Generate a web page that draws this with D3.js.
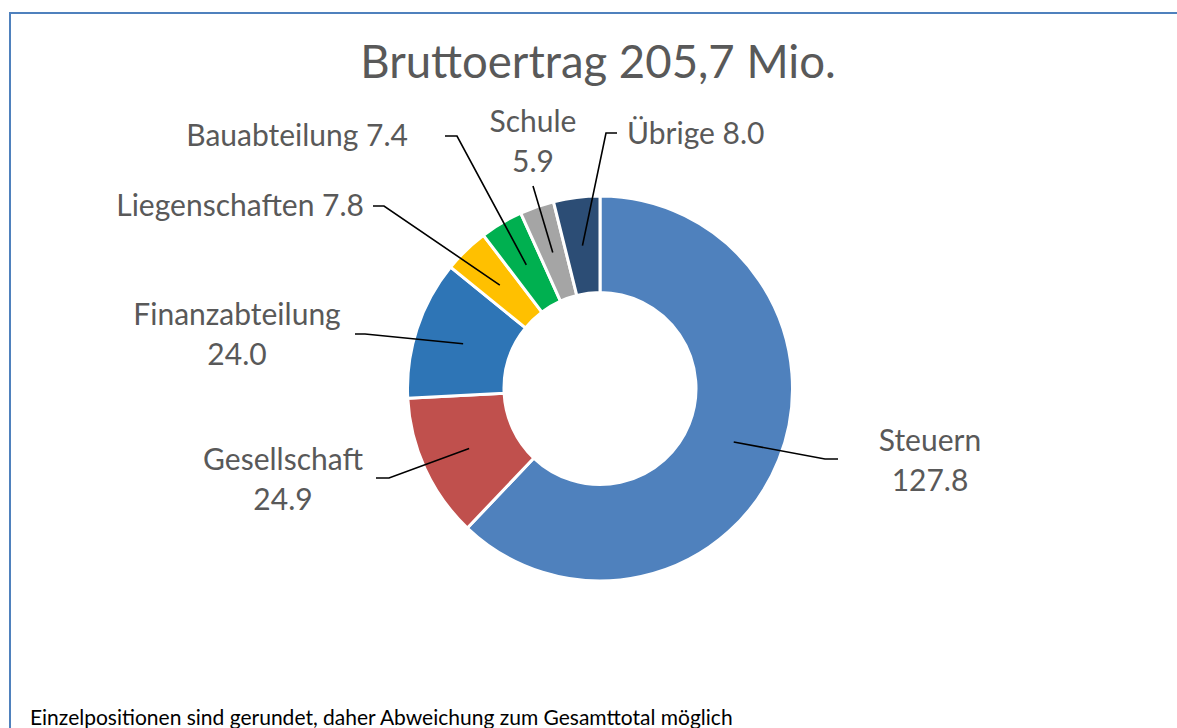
<!DOCTYPE html>
<html>
<head>
<meta charset="utf-8">
<script src="https://cdn.jsdelivr.net/npm/d3@7"></script>
<style>
  html, body { margin: 0; padding: 0; background: #fff; }
  svg { display: block; }
</style>
</head>
<body>
<svg id="chart" width="1177" height="728"></svg>
<script>
// ---- data ----
const categories = ["Steuern", "Gesellschaft", "Finanzabteilung", "Liegenschaften", "Bauabteilung", "Schule", "Übrige"];
const values = [127.8, 24.9, 24.0, 7.8, 7.4, 5.9, 8.0];
const colors = ["#4f81bd", "#c0504d", "#2e75b6", "#ffc000", "#00b050", "#a5a5a5", "#2c4d75"];
const labelLineBreak = [true, true, true, false, false, true, false];
const titleText = "Bruttoertrag 205,7 Mio.";
const footnoteText = "Einzelpositionen sind gerundet, daher Abweichung zum Gesamttotal möglich";

// ---- layout (label placement, not data) ----
const labelLayout = [
  { x: 930, y: 451, anchor: "middle", elbow: [[825, 459], [838, 459]] },
  { x: 283, y: 470, anchor: "middle", elbow: [[389, 478], [376, 478]] },
  { x: 237, y: 325, anchor: "middle", elbow: [[365, 334], [355, 334]] },
  { x: 364, y: 216, anchor: "end",    elbow: [[384, 206], [373, 206]] },
  { x: 408, y: 146, anchor: "end",    elbow: [[457, 136], [445, 136]] },
  { x: 533, y: 132, anchor: "middle", elbow: [[533, 186]] },
  { x: 627, y: 144, anchor: "start",  elbow: [[606, 133], [617, 133]] }
];

const svg = d3.select("#chart");
const cx = 600, cy = 388.5, rOuter = 192.5, rInner = 96;
const fontFam = "Lato, 'Noto Sans', sans-serif";

// border
svg.append("rect").attr("x", 10).attr("y", 13).attr("width", 1200).attr("height", 800)
  .attr("fill", "none").attr("stroke", "#4f81bd").attr("stroke-width", 2);

// title
svg.append("text").attr("x", 598).attr("y", 78).attr("text-anchor", "middle")
  .attr("font-family", fontFam).attr("font-size", 45.5).attr("fill", "#595959").text(titleText);

const data = categories.map((c, i) => ({ name: c, value: values[i], color: colors[i], i }));
const pie = d3.pie().value(d => d.value).sort(null);
const arcs = pie(data);
const arc = d3.arc().innerRadius(rInner).outerRadius(rOuter);
const midArc = d3.arc().innerRadius(144).outerRadius(144);

const g = svg.append("g").attr("transform", `translate(${cx},${cy})`);
g.selectAll("path.slice").data(arcs).enter().append("path")
  .attr("class", "slice")
  .attr("d", arc)
  .attr("fill", d => d.data.color)
  .attr("stroke", "#fff").attr("stroke-width", 3).attr("stroke-linejoin", "round");

// leader lines
const line = d3.line();
arcs.forEach((a, i) => {
  const c = midArc.centroid(a);
  const pts = [[c[0] + cx, c[1] + cy]].concat(labelLayout[i].elbow);
  svg.append("path").attr("d", line(pts)).attr("fill", "none")
    .attr("stroke", "#000").attr("stroke-width", 1.6);
});

// labels
arcs.forEach((a, i) => {
  const L = labelLayout[i];
  const t = svg.append("text").attr("x", L.x).attr("y", L.y).attr("text-anchor", L.anchor)
    .attr("font-family", fontFam).attr("font-size", 30).attr("fill", "#595959");
  const vStr = d3.format(".1f")(a.data.value);
  if (labelLineBreak[i]) {
    t.append("tspan").attr("x", L.x).text(a.data.name);
    t.append("tspan").attr("x", L.x).attr("dy", 39.5).text(vStr);
  } else {
    t.text(a.data.name + " " + vStr);
  }
});

// footnote
svg.append("text").attr("x", 30).attr("y", 725).attr("font-family", fontFam)
  .attr("font-size", 21).attr("fill", "#000").text(footnoteText);
</script>
</body>
</html>
